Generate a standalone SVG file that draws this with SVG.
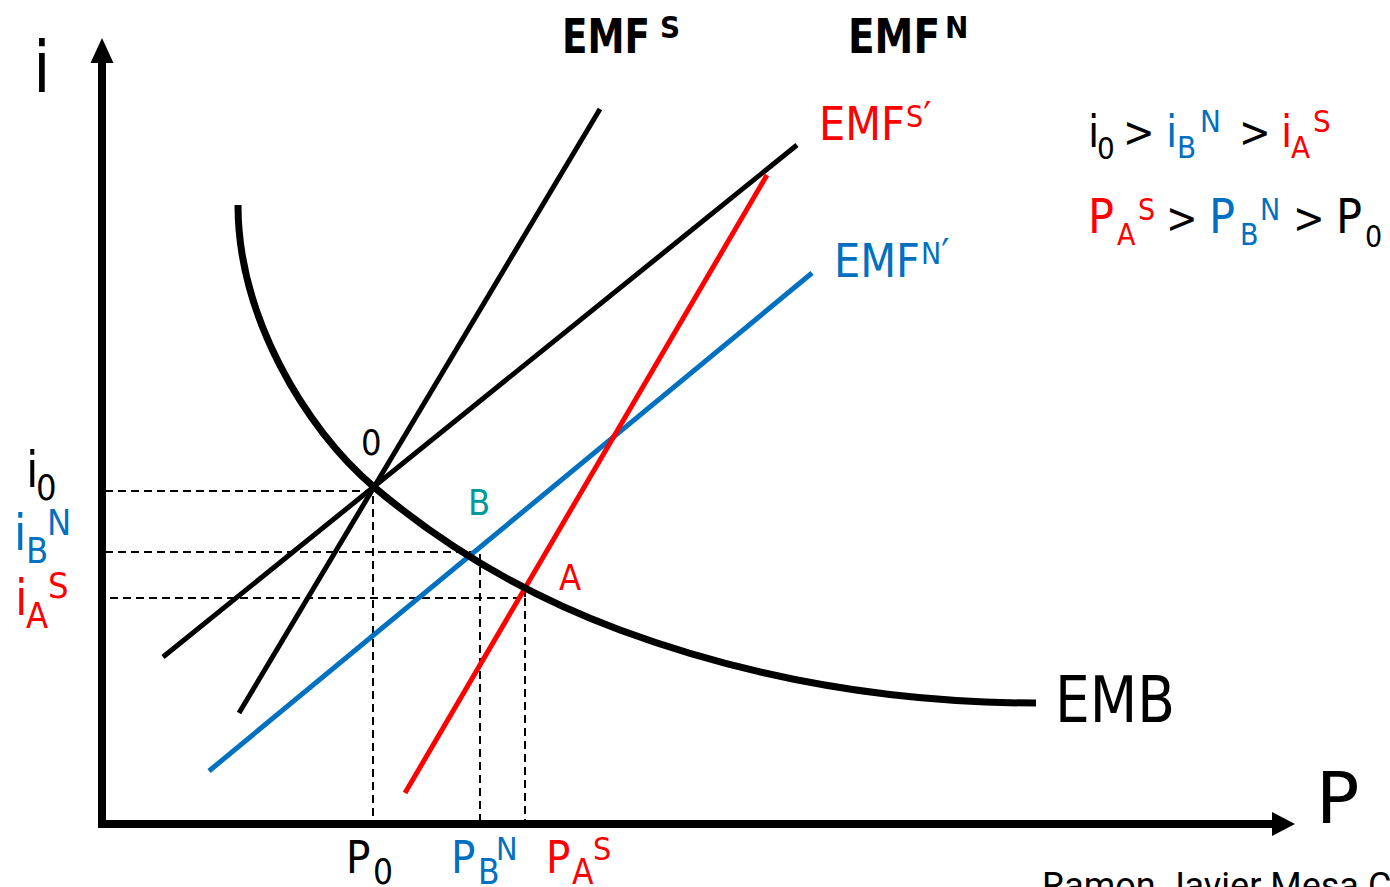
<svg xmlns="http://www.w3.org/2000/svg" width="1390" height="887" viewBox="0 0 1390 887">
<style>
.t{font-family:"DejaVu Sans Condensed","DejaVu Sans",sans-serif;}
.w{font-family:"DejaVu Sans",sans-serif;}
.b{font-weight:bold;}
.k{fill:#000;}
.r{fill:#FF0000;}
.u{fill:#0070C0;}
.g{fill:#009999;}
.ln{fill:none;stroke-width:5;stroke-linecap:butt;}
.dash{fill:none;stroke:#000;stroke-width:2;stroke-dasharray:8 5;}
.ax{fill:none;stroke:#000;stroke-width:8;}
</style>
<rect width="1390" height="887" fill="#fff"/>
<g id="axes">
<line class="ax" x1="102" y1="828" x2="102" y2="60"/>
<polygon points="102,38 90.5,63 113.5,63" fill="#000"/>
<line class="ax" x1="98" y1="824" x2="1274" y2="824"/>
<polygon points="1295,824 1272,812 1272,836" fill="#000"/>
<text class="t k" x="33" y="92" font-size="71">i</text>
<text class="w k" x="1316" y="823" font-size="72">P</text>
</g>
<g id="connectors">
<path class="dash" d="M105,491 H373 V824"/>
<path class="dash" d="M105,552 H480 V824"/>
<path class="dash" d="M110,598 H525 V588 M525,598 V824"/>
<line class="ln" stroke="#000" x1="239" y1="713" x2="600" y2="109"/>
<line class="ln" stroke="#000" x1="163" y1="657" x2="797" y2="145"/>
<line class="ln" stroke="#0070C0" x1="209" y1="771" x2="812" y2="273"/>
<line class="ln" stroke="#FF0000" x1="405" y1="793" x2="767" y2="175"/>
<path fill="none" stroke="#000" stroke-width="7" d="M238,205 C238,315 304,427.5 374,487 C451,552 535,598.6 620,630 C750,678.1 886,703 1036,703"/>
</g>
<g id="EMFS">
<text class="t b k" x="562" y="53" font-size="48" textLength="88" lengthAdjust="spacingAndGlyphs">EMF</text>
<text class="t b k" x="660" y="38" font-size="31">S</text>
</g>
<g id="EMFN">
<text class="t b k" x="848" y="53" font-size="48" textLength="92" lengthAdjust="spacingAndGlyphs">EMF</text>
<text class="t b k" x="945" y="38" font-size="31">N</text>
</g>
<g id="EMFSp">
<text class="t r" x="819" y="140" font-size="46" textLength="86" lengthAdjust="spacingAndGlyphs">EMF</text>
<text class="t r" x="906" y="127" font-size="30">S<tspan font-size="40" dy="4">′</tspan></text>
</g>
<g id="EMFNp">
<text class="t u" x="834" y="277" font-size="47" textLength="86" lengthAdjust="spacingAndGlyphs">EMF</text>
<text class="t u" x="921" y="264" font-size="30">N<tspan font-size="40" dy="4">′</tspan></text>
</g>
<g id="EMB">
<text class="t k" x="1055" y="722" font-size="64" textLength="120" lengthAdjust="spacingAndGlyphs">EMB</text>
</g>
<g id="point0"><text class="t k" x="361" y="455" font-size="36">0</text></g>
<g id="pointB"><text class="t g" x="468" y="515" font-size="36">B</text></g>
<g id="pointA"><text class="t r" x="559" y="590" font-size="36">A</text></g>
<g id="yLabels">
<text class="t k" x="26" y="487" font-size="50">i</text>
<text class="t k" x="36" y="500" font-size="36">0</text>
<text class="t u" x="14" y="550" font-size="50">i</text>
<text class="t u" x="26" y="563" font-size="36">B</text>
<text class="t u" x="47" y="535" font-size="36">N</text>
<text class="t r" x="15" y="615" font-size="50">i</text>
<text class="t r" x="26" y="628" font-size="36">A</text>
<text class="t r" x="48" y="598" font-size="36">S</text>
</g>
<g id="xLabels">
<text class="t k" x="346" y="873" font-size="45">P</text>
<text class="t k" x="373" y="884" font-size="35">0</text>
<text class="t u" x="451" y="873" font-size="45">P</text>
<text class="t u" x="478" y="884" font-size="35">B</text>
<text class="t u" x="496" y="860" font-size="32">N</text>
<text class="t r" x="546" y="873" font-size="45">P</text>
<text class="t r" x="572" y="884" font-size="35">A</text>
<text class="t r" x="593" y="860" font-size="32">S</text>
</g>
<g id="legend">
<text class="t k" x="1088" y="147" font-size="45">i</text>
<text class="t k" x="1097" y="159" font-size="31">0</text>
<text class="t k" x="1123" y="147" font-size="42">&gt;</text>
<text class="t u" x="1166" y="147" font-size="45">i</text>
<text class="t u" x="1177" y="158" font-size="31">B</text>
<text class="t u" x="1200" y="132" font-size="31">N</text>
<text class="t k" x="1239" y="147" font-size="42">&gt;</text>
<text class="t r" x="1281" y="147" font-size="45">i</text>
<text class="t r" x="1291" y="158" font-size="31">A</text>
<text class="t r" x="1313" y="132" font-size="31">S</text>
<text class="t r" x="1088" y="233" font-size="48">P</text>
<text class="t r" x="1117" y="245" font-size="30">A</text>
<text class="t r" x="1138" y="220" font-size="30">S</text>
<text class="t k" x="1166" y="233" font-size="42">&gt;</text>
<text class="t u" x="1209" y="233" font-size="48">P</text>
<text class="t u" x="1240" y="245" font-size="30">B</text>
<text class="t u" x="1260" y="220" font-size="30">N</text>
<text class="t k" x="1293" y="233" font-size="42">&gt;</text>
<text class="t k" x="1336" y="233" font-size="48">P</text>
<text class="t k" x="1365" y="247" font-size="30">0</text>
</g>
<g id="credit">
<text x="1042" y="898" font-family="Roboto,'Liberation Sans',sans-serif" font-size="36" fill="#000">Ramon Javier Mesa C</text>
</g>
</svg>
